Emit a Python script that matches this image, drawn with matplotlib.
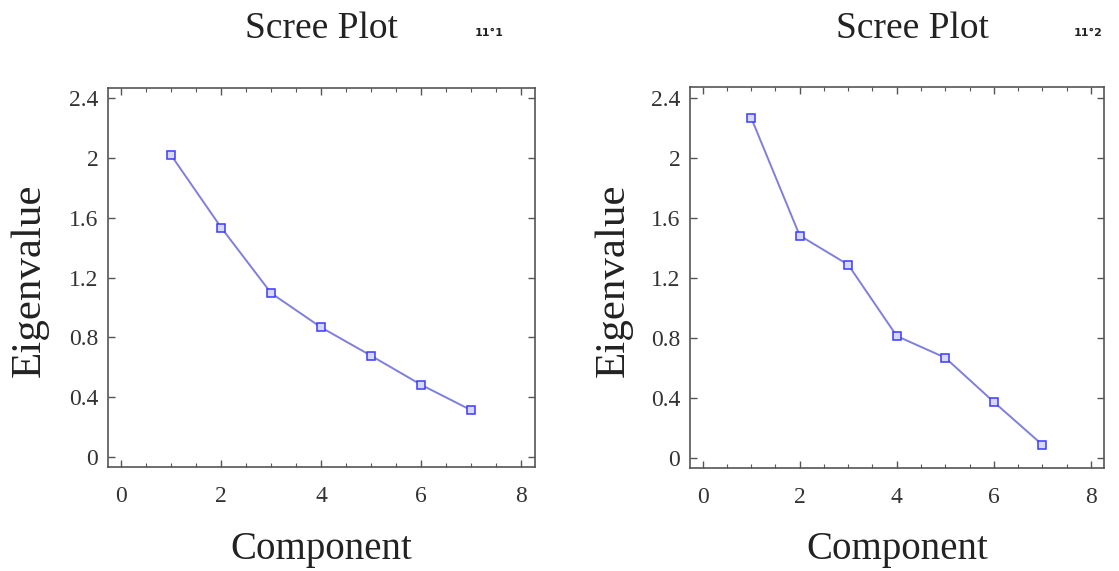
import matplotlib
matplotlib.use("Agg")
import matplotlib.pyplot as plt
from matplotlib.ticker import MultipleLocator

plt.rcParams['font.family'] = ['Liberation Serif', 'DejaVu Serif']

# data
components = [1, 2, 3, 4, 5, 6, 7]
eig_left = [2.02, 1.535, 1.095, 0.865, 0.675, 0.48, 0.31]
eig_right = [2.265, 1.48, 1.285, 0.81, 0.665, 0.37, 0.085]
x_ticks = [0, 2, 4, 6, 8]
y_ticks = [0, 0.4, 0.8, 1.2, 1.6, 2.0, 2.4]
y_ticklabels = ['0', '0.4', '0.8', '1.2', '1.6', '2', '2.4']
tags = ['11°1', '11°2']

W, H = 1119, 571
fig = plt.figure(figsize=(W / 100, H / 100), dpi=100)

# axes boxes in pixels: left, top, right, bottom
boxes = [(108, 88, 535, 467), (690, 87, 1104, 468)]


def px_rect(b):
    l, t, r, bt = b
    return [l / W, 1 - bt / H, (r - l) / W, (bt - t) / H]


for i, (box, vals) in enumerate(zip(boxes, [eig_left, eig_right])):
    ax = fig.add_axes(px_rect(box))
    ax.plot(components, vals, color='#7f7fdd', lw=1.4,
            marker='s', ms=5.5, mfc='#d8d8ff', mec='#3a3aff', mew=1.1)
    ax.set_xlim(-0.26, 8.27)
    ax.set_ylim(-0.07, 2.47)
    ax.set_xticks(x_ticks)
    ax.set_yticks(y_ticks)
    ax.set_yticklabels(y_ticklabels)
    ax.xaxis.set_minor_locator(MultipleLocator(0.5))
    ax.tick_params(which='both', direction='in', top=True, right=True,
                   colors='#555555', labelcolor='#333333')
    ax.tick_params(which='major', length=5, width=1)
    ax.tick_params(which='minor', length=3, width=0.8)
    ax.tick_params(axis='x', labelsize=17, pad=14)
    ax.tick_params(axis='y', labelsize=17, pad=7)
    for s in ax.spines.values():
        s.set_color('#555555')
        s.set_linewidth(1.2)

    cx = (box[0] + box[2]) / 2
    # title, labels
    fig.text((cx + (15 if i == 1 else 0)) / W, 1 - 29 / H, 'Scree Plot',
             ha='center', va='center', fontsize=27, color='#222222')
    fig.text((489 if i == 0 else 1088) / W, 1 - 33 / H, tags[i],
             ha='center', va='center', fontsize=8, fontweight='bold',
             family='DejaVu Sans', color='#222222')
    fig.text(cx / W, 1 - 550 / H, 'Component', ha='center', va='center',
             fontsize=28, color='#222222')
    fig.text((30 if i == 0 else 614) / W, 1 - 280 / H, 'Eigenvalue',
             ha='center', va='center', rotation=90, fontsize=31,
             color='#222222')

fig.savefig('out.png', dpi=100, facecolor='white')
